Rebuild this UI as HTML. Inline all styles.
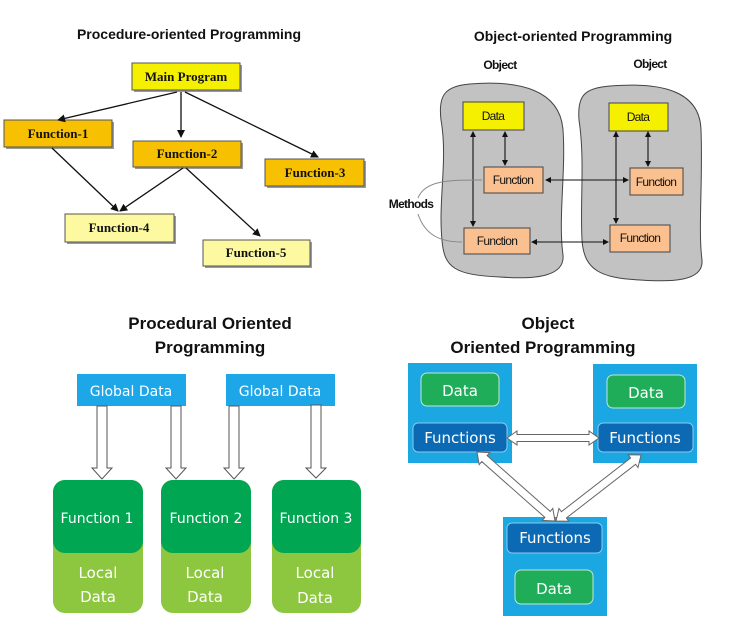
<!DOCTYPE html>
<html><head><meta charset="utf-8"><style>
html,body{margin:0;padding:0;background:#fff;}
svg{display:block;}
.t{font-family:"Liberation Sans",sans-serif;font-weight:bold;fill:#111;}
.s{font-family:"Liberation Serif",serif;font-weight:bold;fill:#111;font-size:13px;}
.n{font-family:"Liberation Sans",sans-serif;font-size:12px;fill:#111;letter-spacing:-0.7px;}
.w{font-family:"DejaVu Sans",sans-serif;fill:#fff;}
</style></head><body>
<svg id="sv" width="733" height="643" viewBox="0 0 733 643" xmlns="http://www.w3.org/2000/svg">
<defs>
<marker id="ah" markerWidth="8" markerHeight="8" refX="7" refY="4" orient="auto" markerUnits="userSpaceOnUse"><path d="M0,0 L8,4 L0,8 z" fill="#111"/></marker>
<marker id="as" markerWidth="6" markerHeight="6" refX="5" refY="3" orient="auto-start-reverse" markerUnits="userSpaceOnUse"><path d="M0,0 L6,3 L0,6 z" fill="#111"/></marker>
</defs>
<!-- Top-left -->
<text class="t" x="189" y="39" font-size="14" text-anchor="middle">Procedure-oriented Programming</text>
<g stroke="#555" stroke-width="1">
<rect x="134" y="65" width="108" height="27" fill="#999" stroke="none"/>
<rect x="132" y="63" width="108" height="27" fill="#f5ef00"/>
<rect x="6" y="122" width="108" height="27" fill="#999" stroke="none"/>
<rect x="4" y="120" width="108" height="27" fill="#f7c000"/>
<rect x="135" y="143" width="108" height="26" fill="#999" stroke="none"/>
<rect x="133" y="141" width="108" height="26" fill="#f7c000"/>
<rect x="267" y="161" width="99" height="27" fill="#999" stroke="none"/>
<rect x="265" y="159" width="99" height="27" fill="#f7c000"/>
<rect x="67" y="216" width="109" height="28" fill="#999" stroke="none"/>
<rect x="65" y="214" width="109" height="28" fill="#fdf9a0"/>
<rect x="205" y="242" width="107" height="26" fill="#999" stroke="none"/>
<rect x="203" y="240" width="107" height="26" fill="#fdf9a0"/>
</g>
<text class="s" x="186" y="81" text-anchor="middle">Main Program</text>
<text class="s" x="58" y="138" text-anchor="middle">Function-1</text>
<text class="s" x="187" y="158" text-anchor="middle">Function-2</text>
<text class="s" x="315" y="177" text-anchor="middle">Function-3</text>
<text class="s" x="119" y="232" text-anchor="middle">Function-4</text>
<text class="s" x="256" y="257" text-anchor="middle">Function-5</text>
<g stroke="#111" stroke-width="1.3" marker-end="url(#ah)">
<line x1="177" y1="92" x2="58" y2="120"/>
<line x1="181" y1="92" x2="181" y2="137"/>
<line x1="185" y1="92" x2="318" y2="157"/>
<line x1="52" y1="148" x2="118" y2="211"/>
<line x1="183" y1="168" x2="120" y2="211"/>
<line x1="186" y1="168" x2="260" y2="236"/>
</g>
<!-- Top-right -->
<text class="t" x="573" y="41" font-size="14" text-anchor="middle">Object-oriented Programming</text>
<text class="n" x="500" y="69" text-anchor="middle" font-weight="bold">Object</text>
<text class="n" x="650" y="68" text-anchor="middle" font-weight="bold">Object</text>
<path d="M470,84 C520,80 560,90 563,130 C566,170 558,220 563,255 C565,275 540,280 500,277 C455,275 444,268 442,240 C438,200 448,160 441,120 C438,95 445,86 470,84 z" fill="#c2c2c2" stroke="#444" stroke-width="1"/>
<path d="M610,86 C660,82 700,90 701,130 C703,180 698,230 702,260 C704,282 670,282 640,280 C600,278 584,270 582,240 C580,200 585,160 579,120 C577,95 585,88 610,86 z" fill="#c2c2c2" stroke="#444" stroke-width="1"/>
<g stroke="#444" stroke-width="1">
<rect x="463" y="102" width="61" height="28" fill="#f5f000"/>
<rect x="609" y="103" width="59" height="28" fill="#f5f000"/>
<rect x="484" y="167" width="59" height="26" fill="#fac08f"/>
<rect x="464" y="228" width="66" height="26" fill="#fac08f"/>
<rect x="630" y="168" width="53" height="27" fill="#fac08f"/>
<rect x="610" y="225" width="60" height="27" fill="#fac08f"/>
</g>
<text class="n" x="493" y="120" text-anchor="middle">Data</text>
<text class="n" x="638" y="121" text-anchor="middle">Data</text>
<text class="n" x="513" y="184" text-anchor="middle">Function</text>
<text class="n" x="497" y="245" text-anchor="middle">Function</text>
<text class="n" x="656" y="186" text-anchor="middle">Function</text>
<text class="n" x="640" y="242" text-anchor="middle">Function</text>
<text class="n" x="411" y="208" text-anchor="middle" font-size="10" font-weight="bold">Methods</text>
<g stroke="#111" stroke-width="1.1" marker-start="url(#as)" marker-end="url(#as)">
<line x1="473" y1="132" x2="473" y2="226"/>
<line x1="505" y1="132" x2="505" y2="165"/>
<line x1="616" y1="132" x2="616" y2="223"/>
<line x1="648" y1="132" x2="648" y2="166"/>
<line x1="546" y1="180" x2="628" y2="180"/>
<line x1="532" y1="242" x2="608" y2="242"/>
</g>
<path d="M418,198 C425,180 450,180 482,180" fill="none" stroke="#888" stroke-width="1"/>
<path d="M418,214 C425,235 440,242 462,242" fill="none" stroke="#888" stroke-width="1"/>
<!-- Bottom-left -->
<text class="t" x="210" y="329" font-size="17" text-anchor="middle">Procedural Oriented</text>
<text class="t" x="210" y="353" font-size="17" text-anchor="middle">Programming</text>
<rect x="77" y="374" width="109" height="32" fill="#1da7e8"/>
<rect x="226" y="374" width="109" height="32" fill="#1da7e8"/>
<text class="w" x="131" y="396" font-size="14" text-anchor="middle">Global Data</text>
<text class="w" x="280" y="396" font-size="14" text-anchor="middle">Global Data</text>
<g fill="#fff" stroke="#555" stroke-width="1">
<polygon points="97,406 107,406 107,468 112,468 102,479 92,468 97,468"/>
<polygon points="171,406 181,406 181,468 186,468 176,479 166,468 171,468"/>
<polygon points="229,406 239,406 239,468 244,468 234,479 224,468 229,468"/>
<polygon points="311,405 321,405 321,468 326,468 316,478 306,468 311,468"/>
</g>
<g>
<rect x="53" y="480" width="90" height="133" rx="12" fill="#8dc63f"/>
<rect x="53" y="480" width="90" height="73" rx="12" fill="#00a651"/>
<rect x="161" y="480" width="90" height="133" rx="12" fill="#8dc63f"/>
<rect x="161" y="480" width="90" height="73" rx="12" fill="#00a651"/>
<rect x="272" y="480" width="89" height="133" rx="12" fill="#8dc63f"/>
<rect x="272" y="480" width="89" height="73" rx="12" fill="#00a651"/>
</g>
<g class="w" font-size="14" text-anchor="middle">
<text x="97" y="523">Function 1</text><text x="206" y="523">Function 2</text><text x="316" y="523">Function 3</text>
<text x="98" y="578" font-size="15">Local</text><text x="205" y="578" font-size="15">Local</text><text x="315" y="578" font-size="15">Local</text>
<text x="98" y="602" font-size="15">Data</text><text x="205" y="602" font-size="15">Data</text><text x="315" y="603" font-size="15">Data</text>
</g>
<!-- Bottom-right -->
<text class="t" x="548" y="329" font-size="17" text-anchor="middle">Object</text>
<text class="t" x="543" y="353" font-size="17" text-anchor="middle">Oriented Programming</text>
<rect x="408" y="363" width="104" height="100" fill="#1ba7e1"/>
<rect x="593" y="364" width="104" height="99" fill="#1ba7e1"/>
<rect x="503" y="517" width="104" height="99" fill="#1ba7e1"/>
<g stroke="#bfe8d0" stroke-width="1">
<rect x="421" y="373" width="78" height="33" rx="6" fill="#1fad5a"/>
<rect x="607" y="375" width="78" height="33" rx="6" fill="#1fad5a"/>
<rect x="515" y="570" width="78" height="34" rx="6" fill="#1fad5a"/>
</g>
<g stroke="#8cc8f0" stroke-width="1">
<rect x="413" y="423" width="94" height="29" rx="5" fill="#0b6ab3"/>
<rect x="598" y="423" width="95" height="29" rx="5" fill="#0b6ab3"/>
<rect x="507" y="523" width="95" height="30" rx="5" fill="#0b6ab3"/>
</g>
<g class="w" font-size="15" text-anchor="middle">
<text x="460" y="396">Data</text><text x="646" y="398">Data</text><text x="554" y="594">Data</text>
<text x="460" y="443">Functions</text><text x="645" y="443">Functions</text><text x="555" y="543">Functions</text>
</g>
<g id="arrows" fill="#fff" stroke="#666" stroke-width="1"></g>
</svg>
<script>
function dbl(x1,y1,x2,y2,hw,hh,hl){
 var dx=x2-x1,dy=y2-y1,L=Math.hypot(dx,dy),ux=dx/L,uy=dy/L,px=-uy,py=ux;
 function P(a,b){return (x1+ux*a+px*b).toFixed(1)+","+(y1+uy*a+py*b).toFixed(1);}
 var pts=[P(0,0),P(hl,hh),P(hl,hw),P(L-hl,hw),P(L-hl,hh),P(L,0),P(L-hl,-hh),P(L-hl,-hw),P(hl,-hw),P(hl,-hh)];
 var p=document.createElementNS("http://www.w3.org/2000/svg","polygon");
 p.setAttribute("points",pts.join(" "));
 document.getElementById("arrows").appendChild(p);
}
dbl(507,438,599,438,3.5,7,10);
dbl(477,452,555,521,4,8,10);
dbl(641,455,556,521,4,8,10);
</script>
</body></html>
